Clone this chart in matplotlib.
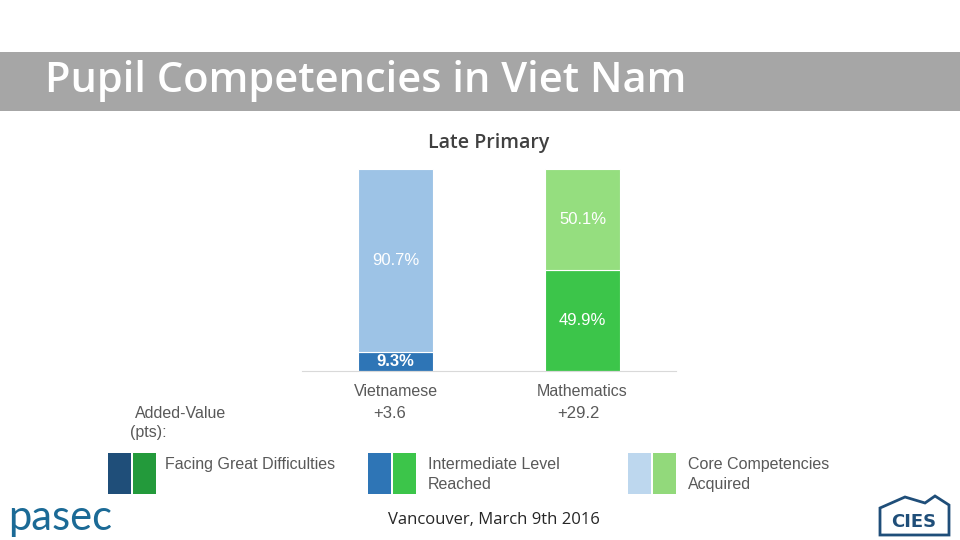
import matplotlib
matplotlib.use("Agg")
import matplotlib.pyplot as plt
from matplotlib.patches import Rectangle, Polygon

subjects = ["Vietnamese", "Mathematics"]
intermediate = [9.3, 49.9]
core = [90.7, 50.1]
added_value = ["+3.6", "+29.2"]
legend_labels = ["Facing Great Difficulties", "Intermediate Level\nReached", "Core Competencies\nAcquired"]

dark_cols = ["#2E75B6", "#3CC54A"]
light_cols = ["#9DC3E6", "#95DE7F"]
legend_cols = [("#1F4E79", "#239A3B"), ("#2E75B6", "#3CC54A"), ("#BDD7EE", "#92D97B")]

W, H = 960, 540
fig = plt.figure(figsize=(9.6, 5.4), dpi=100)
fig.patch.set_facecolor("white")

def fx(px):
    return px / W

def fy(py):
    return 1 - py / H

# title bar
fig.patches.append(Rectangle((0, fy(111)), 1, (111 - 52) / H, transform=fig.transFigure,
                             facecolor="#A6A6A6", edgecolor="none", zorder=0))
fig.text(fx(45), fy(81), "Pupil Competencies in Viet Nam", color="white",
         fontsize=30, fontweight="semibold", family="Open Sans", va="center", ha="left")

# chart axes
ax = fig.add_axes([fx(302), fy(371), (676 - 302) / W, (371 - 169) / H])
x = list(range(len(subjects)))
b1 = ax.bar(x, intermediate, width=0.4, color=dark_cols, edgecolor="white", linewidth=0.8)
b2 = ax.bar(x, core, bottom=intermediate, width=0.4, color=light_cols, edgecolor="white", linewidth=0.8)
ax.set_xlim(-0.5, 1.5)
ax.set_ylim(0, 100)
for s in ["top", "right", "left"]:
    ax.spines[s].set_visible(False)
ax.spines["bottom"].set_color("#D9D9D9")
ax.set_yticks([])
ax.set_xticks(x)
ax.set_xticklabels(subjects, family="Liberation Sans", fontsize=11.5, color="#595959")
ax.tick_params(axis="x", length=0, pad=9)
av_offsets = [-0.03, -0.024]
for i in x:
    ax.text(i, intermediate[i] / 2, f"{intermediate[i]:.1f}%", ha="center", va="center",
            color="white", fontsize=12, family="Liberation Sans", fontweight="bold" if i == 0 else "normal")
    ax.text(i, intermediate[i] + core[i] / 2, f"{core[i]:.1f}%", ha="center", va="center",
            color="white", fontsize=12, family="Liberation Sans")
    ax.text(i + av_offsets[i], -21, added_value[i], ha="center", va="center",
            color="#595959", fontsize=12, family="Liberation Sans")

fig.text(fx(489), fy(143), "Late Primary", ha="center", va="center", fontsize=14,
         fontweight="semibold", family="Open Sans", color="#404040")

fig.text(fx(135), fy(413), "Added-Value", ha="left", va="center", fontsize=11.5,
         family="Liberation Sans", color="#595959")
fig.text(fx(130), fy(432), "(pts):", ha="left", va="center", fontsize=11.5,
         family="Liberation Sans", color="#595959")

# legend
leg_x = [108, 368, 628]
for lx, (c1, c2), lab in zip(leg_x, legend_cols, legend_labels):
    fig.patches.append(Rectangle((fx(lx), fy(494)), 23 / W, 41 / H, transform=fig.transFigure,
                                 facecolor=c1, edgecolor="none"))
    fig.patches.append(Rectangle((fx(lx + 25), fy(494)), 23 / W, 41 / H, transform=fig.transFigure,
                                 facecolor=c2, edgecolor="none"))
    fig.text(fx(lx + 60 if lx > 108 else lx + 57), fy(457), lab, ha="left", va="top", fontsize=11.5,
             family="Liberation Sans", color="#595959", linespacing=1.4)

# footer
fig.text(fx(494), fy(520), "Vancouver, March 9th 2016", ha="center", va="center",
         fontsize=12, family="Open Sans", color="#262626")
fig.text(fx(8), fy(518), "pasec", ha="left", va="center", fontsize=30,
         family="Lato", color="#1B6A96")

# CIES logo (approximation)
fig.patches.append(Polygon([(fx(880), fy(535)), (fx(880), fy(508)), (fx(905), fy(497)),
                            (fx(925), fy(503)), (fx(935), fy(496)), (fx(949), fy(505)),
                            (fx(949), fy(535))], closed=True, transform=fig.transFigure,
                           facecolor="white", edgecolor="#1F4E79", linewidth=2))
fig.text(fx(914), fy(522), "CIES", ha="center", va="center", fontsize=13, fontweight="bold",
         family="DejaVu Sans", color="#1F4E79")

fig.savefig("out.png", dpi=100)
